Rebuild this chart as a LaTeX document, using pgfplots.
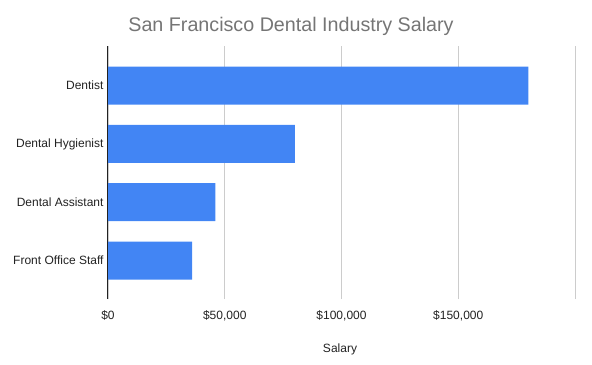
\documentclass[border=0pt]{standalone}
\usepackage{pgfplots}
\pgfplotsset{compat=1.18}
\usepackage{fontspec}
\setmainfont{Liberation Sans}
\definecolor{barblue}{HTML}{4285F4}
\definecolor{gridgray}{HTML}{CCCCCC}
\definecolor{titlegray}{HTML}{757575}
\definecolor{txt}{HTML}{222222}
\begin{document}
\begin{tikzpicture}
\path[use as bounding box] (-108bp,-66bp) rectangle (484bp,299bp);
\begin{axis}[
  at={(0,0)}, anchor=south west,
  scale only axis, width=467bp, height=253bp,
  xbar, bar width=38bp,
  xmin=0, xmax=200000,
  ymin=-0.66, ymax=3.68,
  axis line style={draw=none},
  axis x line*=bottom, axis y line*=left,
  xtick={0,50000,100000,150000,200000},
  xticklabels={\$0,\$50{,}000,\$100{,}000,\$150{,}000,},
  ytick={0,1,2,3},
  yticklabels={Front Office Staff,Dental Assistant,Dental Hygienist,Dentist},
  xmajorgrids, major grid style={draw=gridgray, line width=0.8bp},
  major tick length=0pt,
  tick style={draw=none},
  xticklabel style={font=\fontsize{12bp}{14bp}\selectfont, text=txt, yshift=-8bp},
  yticklabel style={font=\fontsize{12bp}{14bp}\selectfont, text=txt, xshift=-1bp},
  scaled x ticks=false,
  clip=false,
]
\addplot[fill=barblue, draw=none] coordinates {(36000,0) (46000,1) (80000,2) (180000,3)};
\draw[color=txt, line width=1bp] (axis cs:0,-0.66) -- (axis cs:0,3.68);
\end{axis}
\node[text=titlegray, font=\fontsize{19.7bp}{23bp}\selectfont, anchor=base] at (183bp,267bp) {San Francisco Dental Industry Salary};
\node[text=txt, font=\fontsize{12bp}{14bp}\selectfont] at (232bp,-50bp) {Salary};
\end{tikzpicture}
\end{document}
